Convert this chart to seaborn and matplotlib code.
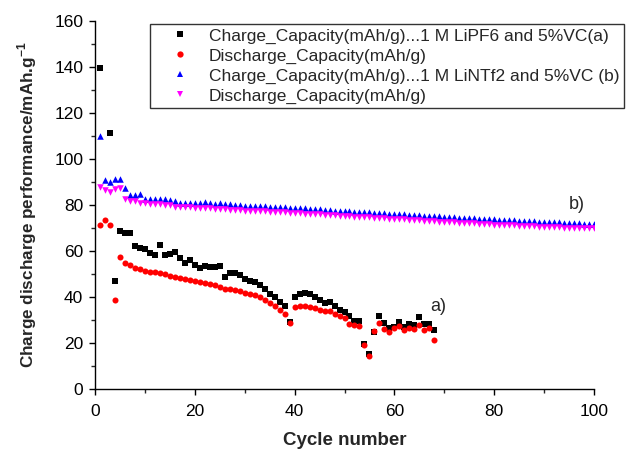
import numpy as np
import pandas as pd
import matplotlib
matplotlib.use("Agg")
import matplotlib.pyplot as plt
from matplotlib.ticker import MultipleLocator
from matplotlib.lines import Line2D
import seaborn as sns

sns.set_style("ticks")
plt.rcParams['font.family'] = ['Liberation Sans', 'DejaVu Sans']
plt.rcParams['mathtext.fontset'] = 'custom'
plt.rcParams['mathtext.rm'] = 'Liberation Sans'
plt.rcParams['mathtext.bf'] = 'Liberation Sans:bold'

nan = np.nan
cycles_a = list(range(1, 69))
charge_a = [139.5, nan, 111.5, 46.8, 68.6, 68.0, 68.0, 62.2, 61.2, 60.8,
            59.0, 58.1, 62.8, 58.4, 58.8, 59.6, 56.8, 54.6, 56.0, 53.8,
            52.8, 53.3, 52.9, 53.2, 53.5, 48.8, 50.3, 50.6, 49.4, 48.0,
            46.8, 46.5, 45.3, 43.3, 41.1, 40.1, 38.0, 36.0, 29.3, 39.8,
            41.1, 41.6, 41.1, 40.2, 38.8, 37.5, 37.8, 36.0, 34.5, 33.4,
            31.6, 29.6, 29.6, 19.5, 15.2, 24.9, 31.9, 28.7, 26.7, 27.0,
            29.3, 27.0, 28.4, 27.8, 31.3, 28.1, 28.1, 25.5]
discharge_a = [71.1, 73.4, 71.1, 38.5, 57.4, 54.6, 53.9, 52.7, 52.0, 51.4,
               51.0, 50.7, 50.4, 49.8, 49.3, 48.8, 48.4, 47.8, 47.5, 47.1,
               46.5, 46.0, 45.6, 45.2, 44.2, 43.6, 43.3, 43.0, 42.5, 41.8,
               41.1, 40.7, 39.8, 38.6, 37.5, 36.3, 34.5, 32.8, 28.5, 35.7,
               36.0, 36.0, 35.7, 35.1, 34.2, 33.9, 33.7, 32.5, 31.9, 30.7,
               28.4, 27.8, 27.2, 19.2, 14.4, 25.4, 28.7, 26.1, 24.6, 26.4,
               27.2, 25.5, 26.4, 26.1, 27.8, 25.5, 26.4, 21.4]

cycles_b = list(range(1, 101))
charge_b = [110.0, 91.0, 90.0, 91.2, 91.2, 87.6, 84.4, 84.2, 84.9, 82.6,
            82.6, 82.5, 82.4, 82.4, 82.3, 81.7, 81.0, 81.0, 81.0, 80.9,
            80.9, 81.4, 80.8, 80.6, 80.7, 80.3, 80.3, 80.1, 79.8, 79.7,
            79.6, 79.6, 79.5, 79.4, 79.3, 79.2, 79.1, 79.0, 78.9, 78.8,
            78.6, 78.5, 78.4, 78.2, 78.1, 78.0, 77.8, 77.6, 77.5, 77.4,
            77.3, 77.1, 77.0, 76.9, 76.8, 76.7, 76.5, 76.4, 76.2, 76.1,
            76.0, 75.9, 75.8, 75.6, 75.5, 75.4, 75.3, 75.1, 75.0, 74.9,
            74.8, 74.6, 74.5, 74.4, 74.3, 74.2, 74.1, 73.9, 73.8, 73.7,
            73.6, 73.5, 73.4, 73.3, 73.2, 73.1, 73.0, 72.9, 72.8, 72.7,
            72.6, 72.5, 72.4, 72.3, 72.2, 72.1, 72.0, 71.9, 71.9, 71.8]
discharge_b = [87.7, 86.7, 85.8, 87.0, 87.2, 82.6, 81.9, 81.9, 80.7, 80.7,
               80.5, 80.4, 80.3, 80.2, 80.0, 79.3, 79.1, 79.0, 79.0, 78.9,
               78.8, 78.9, 78.6, 78.4, 78.3, 78.1, 78.0, 77.9, 77.7, 77.6,
               77.5, 77.4, 77.3, 77.2, 77.1, 77.0, 76.9, 76.8, 76.7, 76.6,
               76.4, 76.3, 76.2, 76.0, 75.9, 75.8, 75.6, 75.5, 75.3, 75.2,
               75.1, 74.9, 74.8, 74.7, 74.6, 74.5, 74.3, 74.2, 74.0, 73.9,
               73.8, 73.7, 73.6, 73.4, 73.3, 73.2, 73.1, 72.9, 72.8, 72.7,
               72.6, 72.4, 72.3, 72.2, 72.1, 72.0, 71.9, 71.7, 71.6, 71.5,
               71.4, 71.3, 71.2, 71.1, 71.0, 70.9, 70.8, 70.7, 70.6, 70.5,
               70.4, 70.3, 70.3, 70.2, 70.1, 70.0, 70.0, 69.9, 69.8, 69.8]

labels = ["Charge_Capacity(mAh/g)...1 M LiPF6 and 5%VC(a)",
          "Discharge_Capacity(mAh/g)",
          "Charge_Capacity(mAh/g)...1 M LiNTf2 and 5%VC (b)",
          "Discharge_Capacity(mAh/g)"]
colors = ["#000000", "#FF0000", "#0000FF", "#FF00FF"]
markers = ["s", "o", "^", "v"]

fig = plt.figure(figsize=(6.28, 4.53), dpi=100)
ax = fig.add_axes([95/628, 1-389/453, (594-95)/628, (389-21)/453])

series = [(cycles_a, charge_a), (cycles_a, discharge_a),
          (cycles_b, charge_b), (cycles_b, discharge_b)]
sizes = [16, 19, 22, 22]
for (xs, ys), c, m, s in zip(series, colors, markers, sizes):
    df = pd.DataFrame({"cycle": xs, "cap": ys}).dropna()
    sns.scatterplot(data=df, x="cycle", y="cap", ax=ax, color=c, marker=m,
                    s=s, linewidth=0, legend=False, zorder=3)

ax.set_xlim(0, 100)
ax.set_ylim(0, 160)
ax.xaxis.set_major_locator(MultipleLocator(20))
ax.xaxis.set_minor_locator(MultipleLocator(10))
ax.yaxis.set_major_locator(MultipleLocator(20))
ax.yaxis.set_minor_locator(MultipleLocator(10))
ax.tick_params(which='major', direction='out', length=4.5, width=1,
               labelsize=12.5, colors='#000000')
ax.tick_params(axis='x', which='major', pad=6)
ax.tick_params(axis='y', which='major', pad=4)
ax.tick_params(which='minor', direction='out', length=3, width=1)
sns.despine(ax=ax)
for sp in ('left', 'bottom'):
    ax.spines[sp].set_linewidth(1.0)
    ax.spines[sp].set_color('#000000')

ax.set_xlabel("Cycle number", fontsize=13.5, fontweight='bold')
ax.xaxis.set_label_coords(0.5, -0.118)
ax.set_ylabel(r"Charge discharge performance/mAh.g$^{\mathbf{-1}}$",
              fontsize=12.3, fontweight='bold')
ax.yaxis.set_label_coords(-0.113, 0.5)

ax.text(68.7, 35.8, "a)", fontsize=13, ha='center', va='center')
ax.text(96.6, 80.4, "b)", fontsize=13, ha='center', va='center')

handles = [Line2D([], [], linestyle='none', marker=m, color=c,
                  markersize=4.5, markeredgewidth=0)
           for m, c in zip(markers, colors)]
leg = fig.legend(handles, labels, loc='upper left',
                 bbox_to_anchor=(150/628, 1-24/453), fontsize=12.5,
                 frameon=True, fancybox=False, handlelength=3.0,
                 handletextpad=0.15, borderpad=0.25, labelspacing=0.27,
                 borderaxespad=0, framealpha=1)
leg.get_frame().set_edgecolor('#333333')
leg.get_frame().set_linewidth(1.0)

fig.savefig("out.png", dpi=100)
